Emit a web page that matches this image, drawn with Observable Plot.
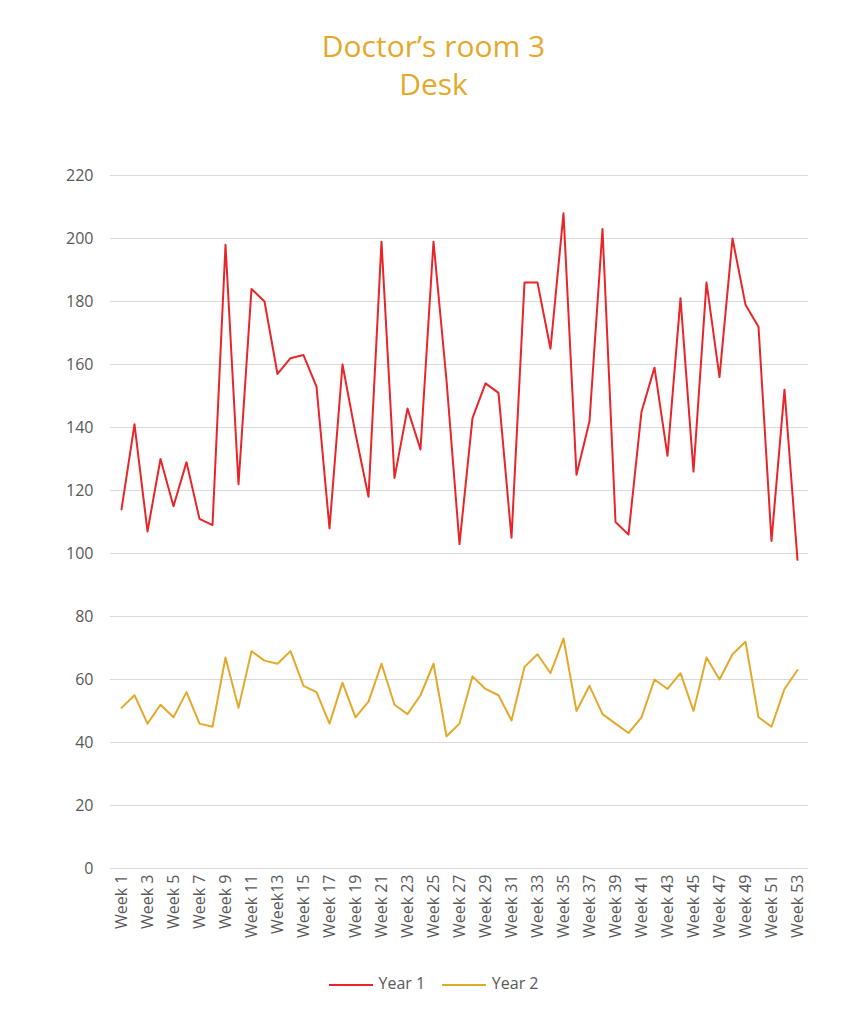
<!DOCTYPE html>
<html><head><meta charset="utf-8">
<script src="https://cdn.jsdelivr.net/npm/d3@7"></script>
<script src="https://cdn.jsdelivr.net/npm/@observablehq/plot@0.6"></script>
<style>
body{margin:0;background:#fff;font-family:"Open Sans",sans-serif;width:867px}
#title{height:110px;box-sizing:border-box;padding-top:27px;text-align:center;color:#E3A92B;font-size:30px;line-height:38px}
#legend{margin-top:22px;text-align:center;font-size:16px;color:#595959}
.sw{display:inline-block;width:44px;height:2px;vertical-align:middle;margin-right:6px}
</style></head><body>
<div id="title">Doctor’s room 3<br>Desk</div>
<div id="chart"></div>
<div id="legend"><span class="sw" style="background:#E8262A"></span>Year 1 &nbsp;&nbsp;&nbsp;<span class="sw" style="background:#E3A92B"></span>Year 2</div>
<script>
const weeks = Array.from({length:53},(_,i)=> i===12 ? "Week13" : "Week " + (i+1));
const year1 = [114,141,107,130,115,129,111,109,198,122,184,180,157,162,163,153,108,160,138,118,199,124,146,133,199,155,103,143,154,151,105,186,186,165,208,125,142,203,110,106,145,159,131,181,126,186,156,200,179,172,104,152,98];
const year2 = [51,55,46,52,48,56,46,45,67,51,69,66,65,69,58,56,46,59,48,53,65,52,49,55,65,42,46,61,57,55,47,64,68,62,73,50,58,49,46,43,48,60,57,62,50,67,60,68,72,48,45,57,63];
const yTicks = [0,20,40,60,80,100,120,140,160,180,200,220];
const d1 = weeks.map((w,i)=>({w,v:year1[i]}));
const d2 = weeks.map((w,i)=>({w,v:year2[i]}));
const chart = Plot.plot({
  width:867, height:840, marginTop:65, marginBottom:82, marginLeft:110, marginRight:59,
  style:{fontFamily:"Open Sans",fontSize:"16px",color:"#595959"},
  x:{type:"point",domain:weeks,padding:0.4,label:null,tickSize:0,tickRotate:-90,
     ticks:weeks.filter((_,i)=>i%2===0)},
  y:{domain:[0,220],ticks:yTicks,label:null,tickSize:0,grid:false},
  marks:[
    Plot.gridY(yTicks,{stroke:"#d9d9d9",strokeOpacity:1}),
    Plot.axisY({ticks:yTicks,tickSize:0,tickPadding:17,fontSize:16,label:null}),
    Plot.axisX({ticks:weeks.filter((_,i)=>i%2===0),tickSize:0,tickRotate:-90,fontSize:16,label:null,tickPadding:6}),
    Plot.line(d1,{x:"w",y:"v",stroke:"#E8262A",strokeWidth:2}),
    Plot.line(d2,{x:"w",y:"v",stroke:"#E3A92B",strokeWidth:2})
  ]
});
document.getElementById("chart").append(chart);
</script></body></html>
